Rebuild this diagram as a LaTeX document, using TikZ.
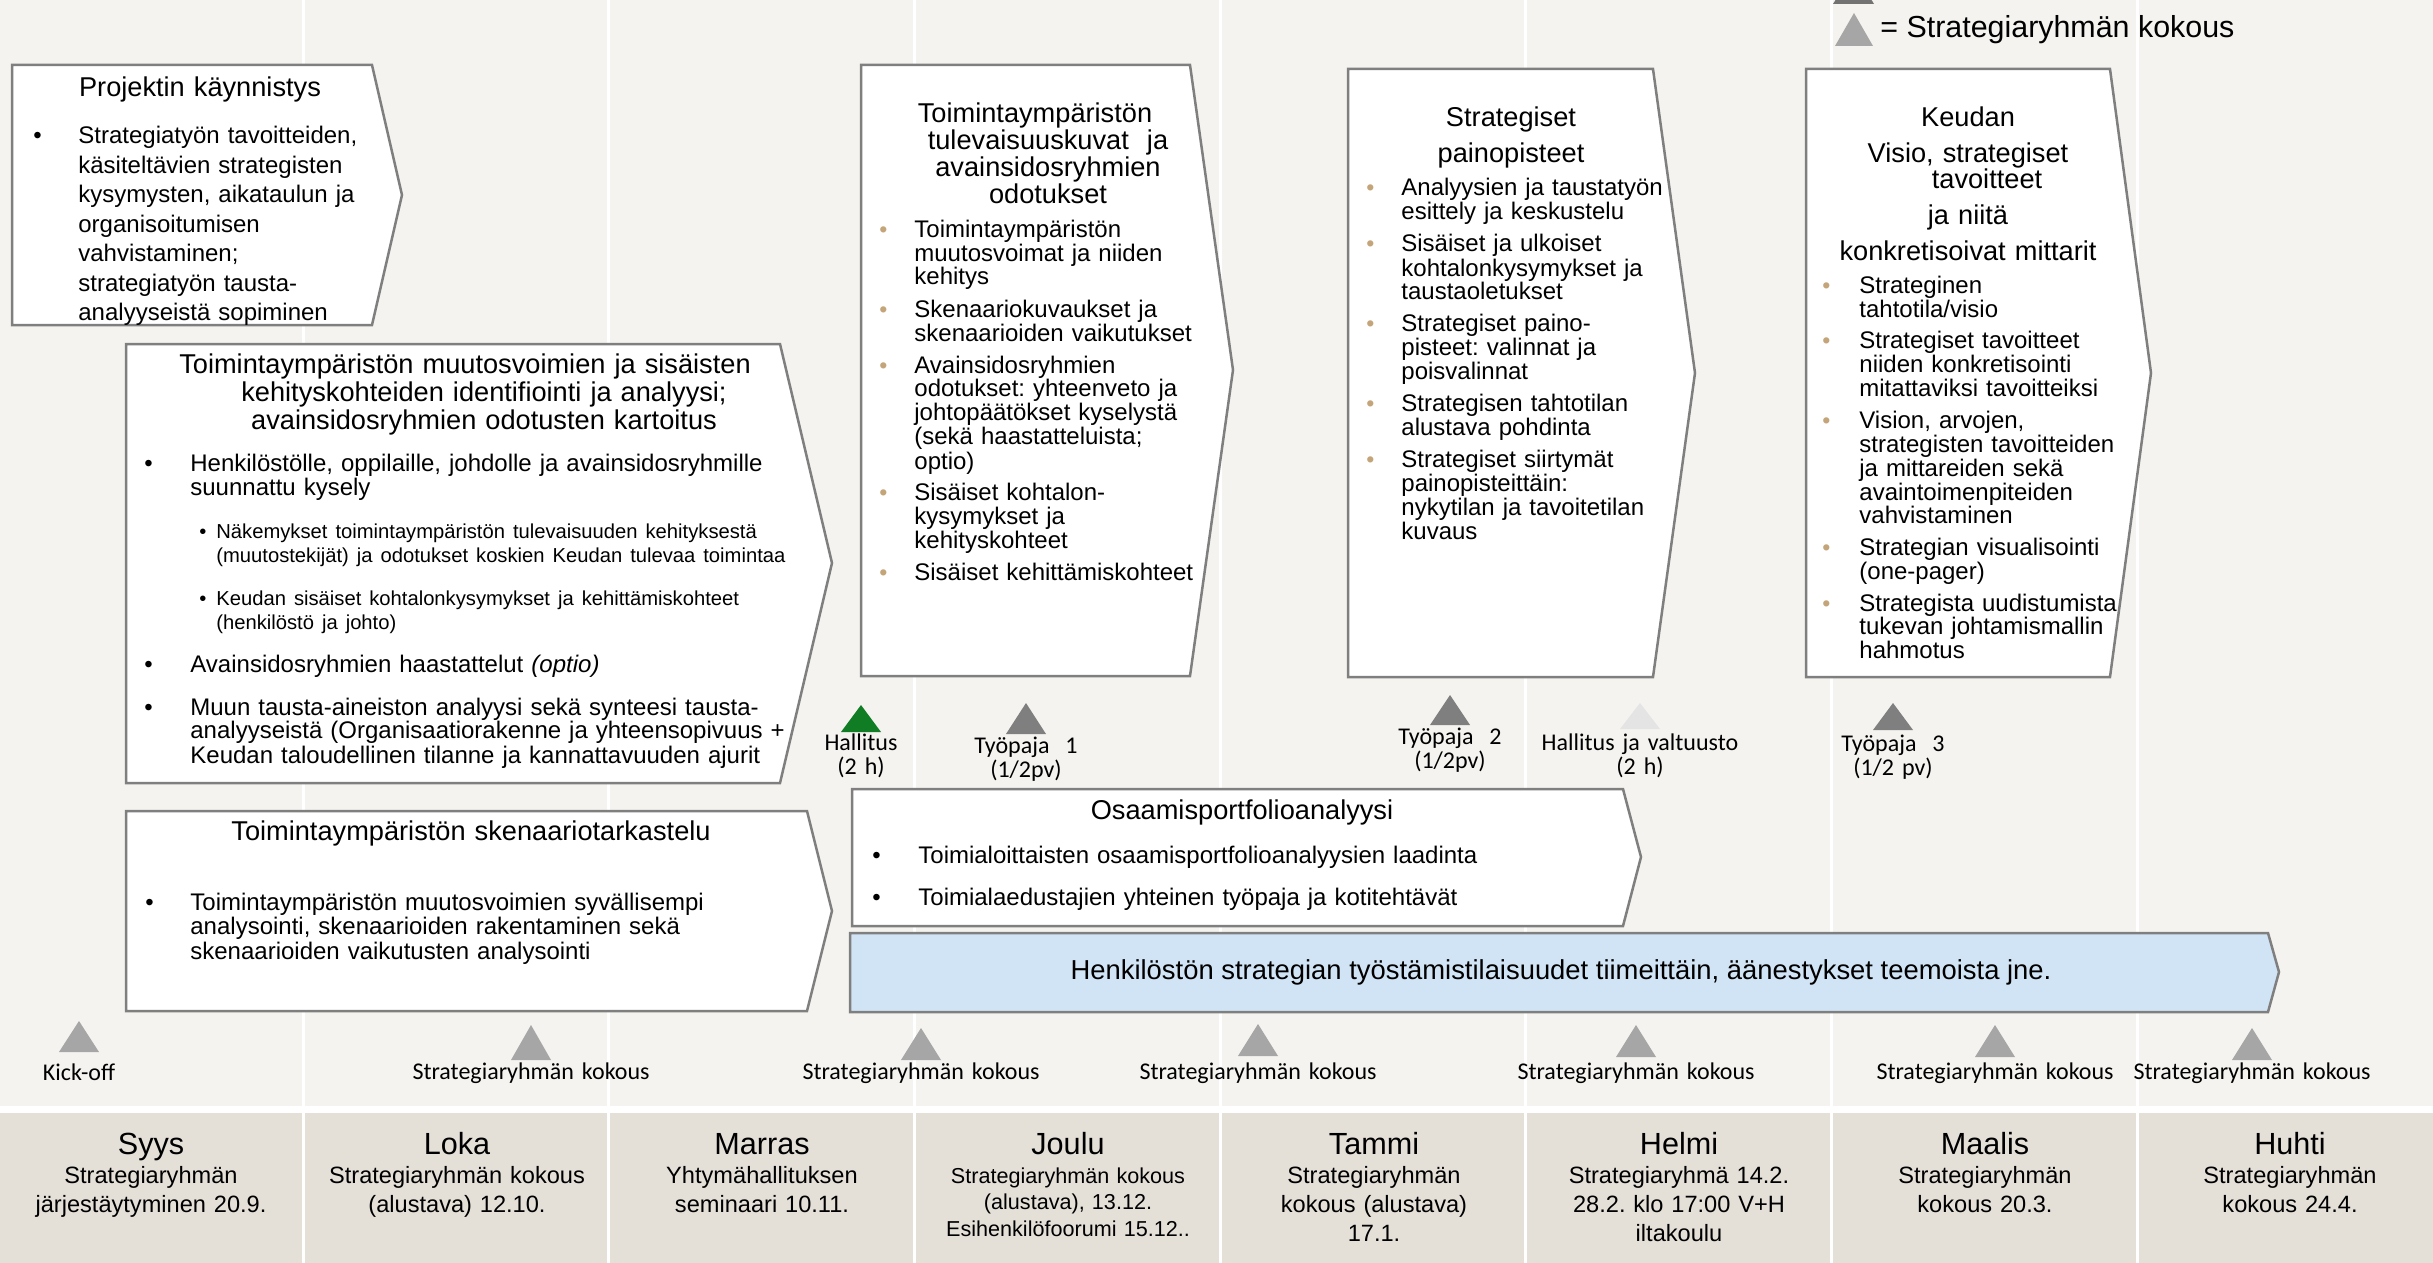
\documentclass[tikz,border=0pt]{standalone}
\usepackage{fontspec}
\setmainfont{Liberation Sans}
\newfontfamily\calib{Carlito}
\usepackage{xcolor}
\usepackage{tikz}
\frenchspacing

\definecolor{bgtop}{RGB}{244,243,239}
\definecolor{bgbot}{RGB}{228,224,216}
\definecolor{boxline}{RGB}{127,127,127}
\definecolor{tanb}{RGB}{196,165,122}
\definecolor{barblue}{RGB}{209,228,245}
\definecolor{trigrey}{RGB}{166,166,166}
\definecolor{tridark}{RGB}{127,127,127}
\definecolor{trilight}{RGB}{228,228,228}
\definecolor{trigreen}{RGB}{16,124,36}

\newcommand{\bul}[1]{\leavevmode\llap{\textbullet\hspace{#1}}}
\newcommand{\tbul}[1]{\leavevmode\llap{{\color{tanb}\fontsize{11.5}{11.5}\selectfont\textbullet}\hspace{#1}}}
\newcommand{\sbul}{\llap{\textbullet\hspace{5pt}}}

\tikzset{
    box/.style={draw=boxline, line width=1.25pt, fill=white},
    ttl/.style={anchor=base, text width=330pt, align=center, inner sep=0pt, font=\fontsize{13.6}{13.5}\selectfont},
    txt/.style={anchor=base west, text width=330pt, align=left, inner sep=0pt, font=\fontsize{12}{12}\selectfont},
    lbl/.style={anchor=base, text width=150pt, align=center, inner sep=0pt, font=\calib\fontsize{12}{12}\selectfont},
    mon/.style={anchor=base, inner sep=0pt, font=\fontsize{15.3}{16}\selectfont},
    msub/.style={anchor=base, text width=150pt, align=center, inner sep=0pt, font=\fontsize{11.8}{14.5}\selectfont}
}

\begin{document}
\begin{tikzpicture}[x=0.5pt, y=-0.5pt]
    \useasboundingbox (0,0) rectangle (2433,1263);
    \clip (0,0) rectangle (2433,1263);
    \fill[white] (0,0) rectangle (2433,1263);
    \fill[bgtop] (0,0) rectangle (2433,1106);
    \fill[bgbot] (0,1113) rectangle (2433,1263);
    \foreach \k in {0,...,6}
        \draw[white, line width=1.5pt] ({303+305.67*\k},0) -- ({303+305.67*\k},1263);

    \fill[black!55] (1833,4) -- (1874,4) -- (1854,-29) -- cycle;
    \fill[trigrey] (1835,46) -- (1873,46) -- (1854,13) -- cycle;
    \node[anchor=base west, inner sep=0pt, font=\fontsize{15.2}{16}\selectfont] (leg) at (1880,38) {= Strategiaryhmän kokous};

    \draw[box] (12,65) -- (372,65) -- (402,195) -- (372,325) -- (12,325) -- cycle;
    \node[ttl] (kayt) at (200,97) {Projektin käynnistys};
    \node[txt, font=\fontsize{12}{14.75}\selectfont] (kaytb) at (78,144) {\bul{18.3pt}Strategiatyön tavoitteiden,\\käsiteltävien strategisten\\kysymysten, aikataulun ja\\organisoitumisen\\vahvistaminen;\\strategiatyön tausta-\\analyyseistä sopiminen};

    \draw[box] (126,344) -- (780,344) -- (832,563) -- (780,783) -- (126,783) -- cycle;
    \node[ttl, font=\fontsize{13.6}{14}\selectfont] (muut) at (484,373) {\hspace*{-19pt}Toimintaympäristön muutosvoimien ja sisäisten\\kehityskohteiden identifiointi ja analyysi;\\avainsidosryhmien odotusten kartoitus};
    \node[txt] (muutb) at (190,471) {\bul{18.8pt}Henkilöstölle, oppilaille, johdolle ja avainsidosryhmille\\suunnattu kysely\\[9.5pt]
        \fontsize{10.1}{12}\selectfont\hspace*{13pt}\sbul Näkemykset toimintaympäristön tulevaisuuden kehityksestä\\\hspace*{13pt}(muutostekijät) ja odotukset koskien Keudan tulevaa toimintaa\\[9.5pt]
        \hspace*{13pt}\sbul Keudan sisäiset kohtalonkysymykset ja kehittämiskohteet\\\hspace*{13pt}(henkilöstö ja johto)\\[9.5pt]
        \fontsize{12}{12}\selectfont\bul{18.8pt}Avainsidosryhmien haastattelut \textit{(optio)}\\[9.5pt]
        \bul{18.8pt}Muun tausta-aineiston analyysi sekä synteesi tausta-\\analyyseistä (Organisaatiorakenne ja yhteensopivuus +\\Keudan taloudellinen tilanne ja kannattavuuden ajurit};

    \draw[box] (861,65) -- (1190,65) -- (1233,370) -- (1190,676) -- (861,676) -- cycle;
    \node[ttl] (tule) at (1048,123) {\hspace*{-13pt}Toimintaympäristön\\tulevaisuuskuvat\ \ ja\\avainsidosryhmien\\odotukset};
    \node[txt] (tuleb) at (914,237) {\tbul{13.5pt}Toimintaympäristön\\muutosvoimat ja niiden\\kehitys\\[4pt]
        \tbul{13.5pt}Skenaariokuvaukset ja\\skenaarioiden vaikutukset\\[4pt]
        \tbul{13.5pt}Avainsidosryhmien\\odotukset: yhteenveto ja\\johtopäätökset kyselystä\\(sekä haastatteluista;\\optio)\\[4pt]
        \tbul{13.5pt}Sisäiset kohtalon-\\kysymykset ja\\kehityskohteet\\[4pt]
        \tbul{13.5pt}Sisäiset kehittämiskohteet};

    \draw[box] (1348,69) -- (1653,69) -- (1695,373) -- (1653,677) -- (1348,677) -- cycle;
    \node[ttl] (pain) at (1511,127) {Strategiset\\[4pt]painopisteet};
    \node[txt] (painb) at (1401,196) {\tbul{13.5pt}Analyysien ja taustatyön\\esittely ja keskustelu\\[4pt]
        \tbul{13.5pt}Sisäiset ja ulkoiset\\kohtalonkysymykset ja\\taustaoletukset\\[4pt]
        \tbul{13.5pt}Strategiset paino-\\pisteet: valinnat ja\\poisvalinnat\\[4pt]
        \tbul{13.5pt}Strategisen tahtotilan\\alustava pohdinta\\[4pt]
        \tbul{13.5pt}Strategiset siirtymät\\painopisteittäin:\\nykytilan ja tavoitetilan\\kuvaus};

    \draw[box] (1806,69) -- (2110,69) -- (2151,373) -- (2110,677) -- (1806,677) -- cycle;
    \node[ttl] (visio) at (1968,127) {Keudan\\[4pt]Visio, strategiset\\\hspace*{19pt}tavoitteet\\[4.5pt]ja niitä\\[4pt]konkretisoivat mittarit};
    \node[txt] (visiob) at (1859,293) {\tbul{14.5pt}Strateginen\\tahtotila/visio\\[3.75pt]
        \tbul{14.5pt}Strategiset tavoitteet\\niiden konkretisointi\\mitattaviksi tavoitteiksi\\[3.75pt]
        \tbul{14.5pt}Vision, arvojen,\\strategisten tavoitteiden\\ja mittareiden sekä\\avaintoimenpiteiden\\vahvistaminen\\[3.75pt]
        \tbul{14.5pt}Strategian visualisointi\\(one-pager)\\[3.75pt]
        \tbul{14.5pt}Strategista uudistumista\\tukevan johtamismallin\\hahmotus};

    \draw[box] (126,811) -- (807,811) -- (832,911) -- (807,1011) -- (126,1011) -- cycle;
    \node[ttl] (sken) at (471,840) {Toimintaympäristön skenaariotarkastelu};
    \node[txt, font=\fontsize{12}{12.25}\selectfont] (skenb) at (190,910) {\bul{18.3pt}Toimintaympäristön muutosvoimien syvällisempi\\analysointi, skenaarioiden rakentaminen sekä\\skenaarioiden vaikutusten analysointi};

    \draw[box] (852,789) -- (1623,789) -- (1641,857) -- (1623,926) -- (852,926) -- cycle;
    \node[ttl] (osaa) at (1242,819) {Osaamisportfolioanalyysi};
    \node[txt] (osaab) at (918,863) {\bul{18.8pt}Toimialoittaisten osaamisportfolioanalyysien laadinta\\[9pt]
        \bul{18.8pt}Toimialaedustajien yhteinen työpaja ja kotitehtävät};

    \draw[box, fill=barblue] (850,933) -- (2268,933) -- (2279,972) -- (2268,1012) -- (850,1012) -- cycle;
    \node[font=\fontsize{13.7}{14}\selectfont, inner sep=0pt] (henk) at (1561,972) {Henkilöstön strategian työstämistilaisuudet tiimeittäin, äänestykset teemoista jne.};

    \fill[trigreen] (841,732) -- (881,732) -- (861,705) -- cycle;
    \fill[tridark] (1006,734) -- (1046,734) -- (1026,703) -- cycle;
    \fill[tridark] (1430,725) -- (1470,725) -- (1450,695) -- cycle;
    \fill[trilight] (1620,729) -- (1660,729) -- (1640,703) -- cycle;
    \fill[tridark] (1873,730) -- (1913,730) -- (1893,703) -- cycle;
    \node[lbl] (hall) at (861,750) {Hallitus\\(2 h)};
    \node[lbl] (tp1) at (1026,753) {Työpaja\ \ 1\\(1/2pv)};
    \node[lbl] (tp2) at (1450,744) {Työpaja\ \ 2\\(1/2pv)};
    \node[lbl] (halv) at (1640,750) {Hallitus ja valtuusto\\(2 h)};
    \node[lbl] (tp3) at (1893,751) {Työpaja\ \ 3\\(1/2 pv)};

    \foreach \x/\t/\b in {79/1021/1052, 531/1025/1060, 921/1028/1060, 1258/1024/1056, 1636/1025/1057, 1995/1025/1057, 2252/1028/1060}
        \fill[trigrey] (\x-20,\b) -- (\x+20,\b) -- (\x,\t) -- cycle;
    \node[lbl] (kick) at (79,1080) {Kick-off};
    \foreach \x in {531,921,1258,1636,1995,2252}
        \node[lbl] (sg\x) at (\x,1079) {Strategiaryhmän kokous};

    \node[mon] (syys) at (151,1154) {Syys};
    \node[msub] (syyst) at (151,1183) {Strategiaryhmän\\järjestäytyminen 20.9.};
    \node[mon] (loka) at (457,1154) {Loka};
    \node[msub] (lokat) at (457,1183) {Strategiaryhmän kokous\\(alustava) 12.10.};
    \node[mon] (marras) at (762,1154) {Marras};
    \node[msub] (marrast) at (762,1183) {Yhtymähallituksen\\seminaari 10.11.};
    \node[mon] (joulu) at (1068,1154) {Joulu};
    \node[msub, font=\fontsize{10.8}{13.25}\selectfont] (joulut) at (1068,1183) {Strategiaryhmän kokous\\(alustava), 13.12.\\Esihenkilöfoorumi 15.12..};
    \node[mon] (tammi) at (1374,1154) {Tammi};
    \node[msub] (tammit) at (1374,1183) {Strategiaryhmän\\kokous (alustava)\\17.1.};
    \node[mon] (helmi) at (1679,1154) {Helmi};
    \node[msub] (helmit) at (1679,1183) {Strategiaryhmä 14.2.\\28.2. klo 17:00 V+H\\iltakoulu};
    \node[mon] (maalis) at (1985,1154) {Maalis};
    \node[msub] (maalist) at (1985,1183) {Strategiaryhmän\\kokous 20.3.};
    \node[mon] (huhti) at (2290,1154) {Huhti};
    \node[msub] (huhtit) at (2290,1183) {Strategiaryhmän\\kokous 24.4.};
\end{tikzpicture}
\end{document}
